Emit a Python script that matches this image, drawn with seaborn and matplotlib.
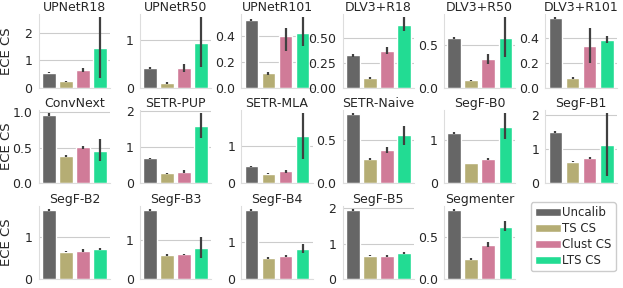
import matplotlib
matplotlib.use("Agg")
import matplotlib.pyplot as plt
from matplotlib.patches import Patch
from matplotlib.ticker import MultipleLocator
import seaborn as sns

# ECE on Cityscapes per model, mean and error-bar ends per calibration method
models = ["UPNetR18", "UPNetR50", "UPNetR101", "DLV3+R18", "DLV3+R50", "DLV3+R101",
          "ConvNext", "SETR-PUP", "SETR-MLA", "SETR-Naive", "SegF-B0", "SegF-B1",
          "SegF-B2", "SegF-B3", "SegF-B4", "SegF-B5", "Segmenter"]
methods = ["Uncalib", "TS CS", "Clust CS", "LTS CS"]

uncalib = [0.55, 0.42, 0.525, 0.323, 0.585, 0.563, 0.967, 0.70, 0.46, 0.79, 1.15, 1.50,
           1.62, 1.76, 1.87, 1.94, 0.823]
uncalib_lo = [0.53, 0.40, 0.52, 0.31, 0.575, 0.555, 0.95, 0.68, 0.45, 0.78, 1.13, 1.48,
              1.60, 1.74, 1.85, 1.92, 0.81]
uncalib_hi = [0.57, 0.44, 0.535, 0.335, 0.595, 0.57, 0.985, 0.72, 0.47, 0.80, 1.17, 1.52,
              1.64, 1.78, 1.89, 1.96, 0.835]

ts_cs = [0.24, 0.10, 0.11, 0.10, 0.085, 0.075, 0.38, 0.28, 0.265, 0.28, 0.47, 0.635,
         0.65, 0.62, 0.57, 0.65, 0.24]
ts_cs_lo = [0.22, 0.08, 0.10, 0.09, 0.075, 0.07, 0.37, 0.27, 0.25, 0.27, 0.46, 0.62,
            0.64, 0.60, 0.56, 0.64, 0.23]
ts_cs_hi = [0.26, 0.12, 0.12, 0.11, 0.095, 0.085, 0.395, 0.30, 0.28, 0.29, 0.48, 0.65,
            0.67, 0.64, 0.59, 0.67, 0.25]

clust_cs = [0.63, 0.41, 0.40, 0.367, 0.335, 0.34, 0.507, 0.33, 0.33, 0.38, 0.56, 0.75,
            0.67, 0.63, 0.62, 0.65, 0.41]
clust_cs_lo = [0.56, 0.32, 0.28, 0.34, 0.28, 0.20, 0.49, 0.30, 0.29, 0.35, 0.54, 0.72,
               0.65, 0.61, 0.59, 0.63, 0.38]
clust_cs_hi = [0.71, 0.50, 0.46, 0.41, 0.40, 0.485, 0.53, 0.37, 0.37, 0.41, 0.58, 0.78,
               0.70, 0.65, 0.65, 0.67, 0.45]

lts_cs = [1.45, 0.94, 0.425, 0.633, 0.59, 0.387, 0.46, 1.60, 1.26, 0.55, 1.30, 1.12,
          0.705, 0.80, 0.82, 0.74, 0.626]
lts_cs_lo = [0.36, 0.44, 0.32, 0.565, 0.36, 0.36, 0.31, 1.26, 0.65, 0.44, 1.01, 0.22,
             0.68, 0.54, 0.71, 0.72, 0.57]
lts_cs_hi = [2.58, 1.48, 0.545, 0.705, 0.83, 0.42, 0.62, 1.95, 1.88, 0.66, 1.61, 2.05,
             0.74, 1.07, 0.955, 0.77, 0.69]

# y tick spacing used in each panel
ytick_steps = [1, 1, 0.2, 0.25, 0.5, 0.2, 0.5, 1, 1, 0.5, 1, 1, 1, 1, 1, 1, 0.5]

colors = ["#666666", "#b5ad74", "#d07b98", "#22dc93"]

sns.set_style("whitegrid")
plt.rcParams["font.family"] = ["DejaVu Sans"]

fig, axes = plt.subplots(3, 6, figsize=(6.23, 2.88), dpi=100)
fig.subplots_adjust(left=0.062, right=0.99, top=0.952, bottom=0.03, wspace=0.42, hspace=0.3)

means = [uncalib, ts_cs, clust_cs, lts_cs]
lows = [uncalib_lo, ts_cs_lo, clust_cs_lo, lts_cs_lo]
highs = [uncalib_hi, ts_cs_hi, clust_cs_hi, lts_cs_hi]

for i, name in enumerate(models):
    ax = axes.flat[i]
    vals = [m[i] for m in means]
    sns.barplot(x=methods, y=vals, hue=methods, palette=colors, saturation=1,
                legend=False, width=0.8, ax=ax)
    ax.vlines(range(4), [l[i] for l in lows], [h[i] for h in highs],
              color="#404040", lw=1.6, zorder=3)
    ax.yaxis.set_major_locator(MultipleLocator(ytick_steps[i]))
    ax.set_title(name, fontsize=9, pad=2)
    ax.set_xticks([])
    ax.set_xlabel("")
    ax.xaxis.grid(False)
    ax.tick_params(axis="y", labelsize=9, pad=1)
    for s in ["left", "bottom"]:
        ax.spines[s].set_color("#dddddd")
    sns.despine(ax=ax)
    if i % 6 == 0:
        ax.set_ylabel("ECE CS", fontsize=9.5)
        ax.yaxis.set_label_coords(-0.36, 0.5)

leg_ax = axes.flat[17]
leg_ax.axis("off")
handles = [Patch(facecolor=c, label=m) for c, m in zip(colors, methods)]
fig.legend(handles=handles, loc="center", bbox_to_anchor=(0.92, 0.178), fontsize=8.5,
           handlelength=2.2, handletextpad=0.1, borderpad=0.35, labelspacing=0.25,
           edgecolor="#cccccc", framealpha=1)

plt.savefig("out.png", dpi=100)
